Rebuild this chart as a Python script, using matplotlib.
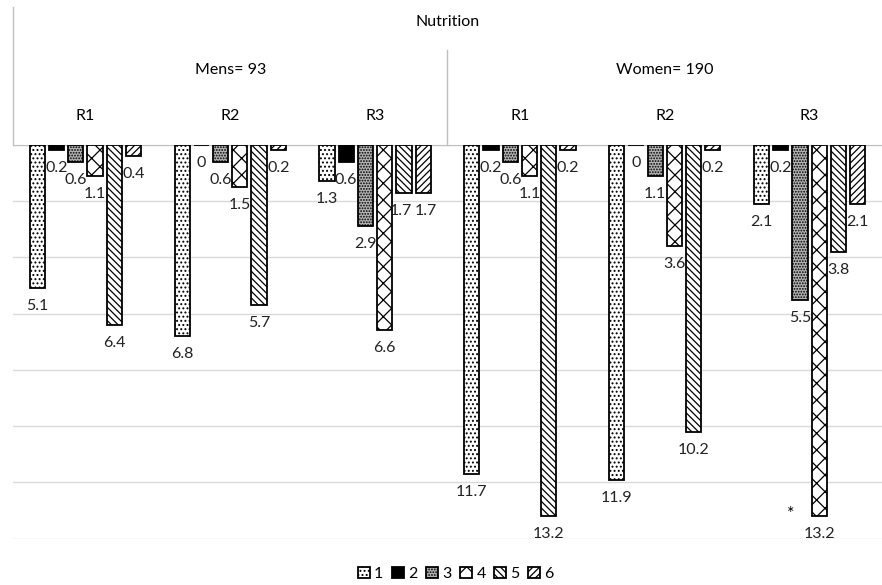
import numpy as np
import matplotlib
matplotlib.use("Agg")
import matplotlib.pyplot as plt

plt.rcParams['font.family'] = ['Lato', 'DejaVu Sans']
plt.rcParams['hatch.linewidth'] = 0.9

# groups along the category axis (Mens R1..R3, Women R1..R3)
rounds = ["R1", "R2", "R3", "R1", "R2", "R3"]
genders = ["Mens= 93", "Women= 190"]
series_names = ["1", "2", "3", "4", "5", "6"]

# values per series, one entry per group
s1 = [5.1, 6.8, 1.3, 11.7, 11.9, 2.1]
s2 = [0.2, 0.0, 0.6, 0.2, 0.0, 0.2]
s3 = [0.6, 0.6, 2.9, 0.6, 1.1, 5.5]
s4 = [1.1, 1.5, 6.6, 1.1, 3.6, 13.2]
s5 = [6.4, 5.7, 1.7, 13.2, 10.2, 3.8]
s6 = [0.4, 0.2, 1.7, 0.2, 0.2, 2.1]
series = [s1, s2, s3, s4, s5, s6]

# fill styles (face colour, hatch)
styles = [("white", "...."), ("black", ""), ("#b5b5b5", "......"),
          ("white", "xx"), ("white", "\\\\\\\\\\"), ("white", "/////")]

fig = plt.figure(figsize=(8.82, 5.85), dpi=100)
ax = fig.add_axes([13/882, 1 - 538.8/585, 1 - 13/882, (538.8 - 144.7)/585])

x = np.arange(len(rounds))
pitch = 0.1328
width = 0.105
grid_col = "#d9d9d9"
fs = 11.5

for i, vals in enumerate(series):
    fc, h = styles[i]
    pos = x + (i - 2.5) * pitch
    ax.bar(pos, vals, width=width, facecolor=fc, edgecolor="black",
           hatch=h, linewidth=1.3, label=series_names[i], zorder=3)
    for j, (px, v) in enumerate(zip(pos, vals)):
        dx = 0
        # the two 1.7 labels in Mens R3 sit side by side, push apart a bit
        if j == 2 and i == 4:
            dx = -3
        elif j == 2 and i == 5:
            dx = 3
        ax.annotate(f"{v:g}", (px, v), xytext=(dx, -18), textcoords="offset pixels",
                    ha="center", va="center", fontsize=fs, color="#222222")

ax.set_xlim(-0.5, 5.5)
ax.set_ylim(14, 0)
ax.set_yticks(np.arange(0, 15, 2))
ax.yaxis.grid(True, color=grid_col, linewidth=1)
ax.set_axisbelow(True)
ax.tick_params(left=False, labelleft=False, bottom=False, labelbottom=False)
ax.set_xticks([])
for sp in ["left", "right", "bottom"]:
    ax.spines[sp].set_visible(False)
ax.spines["top"].set_color("#bfbfbf")

# header (multi-level category labels)
tr = ax.get_xaxis_transform()
ax_h = 538.8 - 144.7
def yfrac(py):
    return 1 + (144.7 - py) / ax_h

for i, r in enumerate(rounds):
    ax.text(i, yfrac(116), r, transform=tr, ha="center", va="center", fontsize=fs)
ax.text(1, yfrac(70), genders[0], transform=tr, ha="center", va="center", fontsize=fs)
ax.text(4, yfrac(70), genders[1], transform=tr, ha="center", va="center", fontsize=fs)
ax.text(2.5, yfrac(22), "Nutrition", transform=tr, ha="center", va="center", fontsize=fs)

ax.plot([-0.5, -0.5], [1, yfrac(7)], transform=tr, color="#bfbfbf", lw=1, clip_on=False)
ax.plot([2.5, 2.5], [1, yfrac(50)], transform=tr, color="#bfbfbf", lw=1, clip_on=False)

ax.annotate("*", (5 + 0.5 * pitch, 13.2), xytext=(-28, 2), textcoords="offset pixels",
            ha="center", va="center", fontsize=13)

fig.legend(loc="center", bbox_to_anchor=(456/882, 1 - 574/585), ncol=6, frameon=False,
           fontsize=fs, handlelength=0.75, handleheight=0.75, handletextpad=0.25,
           columnspacing=0.55)

fig.savefig("out.png", dpi=100)
